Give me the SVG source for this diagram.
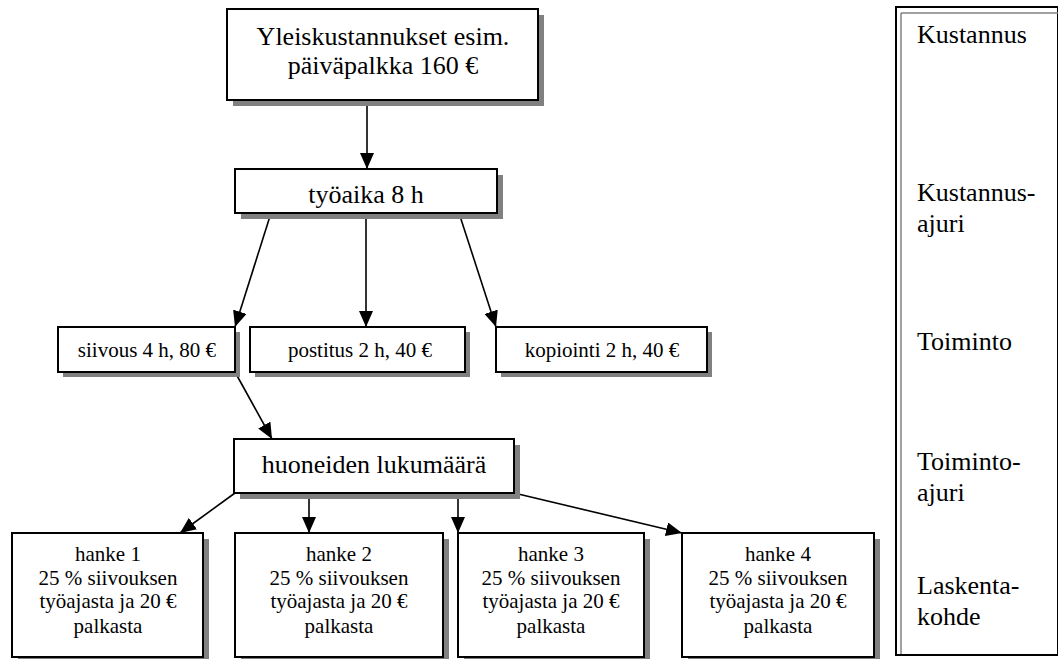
<svg xmlns="http://www.w3.org/2000/svg" width="1058" height="659" viewBox="0 0 1058 659">
<style>
.bg{fill:#ffffff}
.box{fill:#ffffff;stroke:#000000;stroke-width:2}
.sh{fill:#808080}
.t{font-family:"Liberation Serif","Times New Roman",serif;fill:#000000}
.big{font-size:26px}
.mid{font-size:21px}
.c{text-anchor:middle}
.con{stroke:#000000;stroke-width:1.6;fill:none;marker-end:url(#ah)}
</style>
<defs>
<marker id="ah" markerUnits="userSpaceOnUse" markerWidth="16" markerHeight="14" refX="16" refY="7" orient="auto">
<path d="M0,0 L16,7 L0,14 z" fill="#000000"/>
</marker>
</defs>
<rect class="bg" x="0" y="0" width="1058" height="659"/>
<g id="connectors">
<line class="con" x1="367" y1="100" x2="367" y2="169"/>
<line class="con" x1="271" y1="213" x2="235" y2="327"/>
<line class="con" x1="366" y1="213" x2="366" y2="327"/>
<line class="con" x1="459" y1="213" x2="496" y2="327"/>
<line class="con" x1="235" y1="372" x2="272" y2="439"/>
<line class="con" x1="235" y1="493" x2="180" y2="533"/>
<line class="con" x1="309" y1="493" x2="309" y2="533"/>
<line class="con" x1="458" y1="493" x2="458" y2="533"/>
<line class="con" x1="514" y1="493" x2="682" y2="533"/>
</g>
<g id="yleiskustannukset">
<rect class="sh" x="233" y="15" width="311" height="91"/>
<rect class="box" x="227" y="9" width="311" height="91"/>
<text class="t big c" x="383" y="45">Yleiskustannukset esim.</text>
<text class="t big c" x="383" y="74">päiväpalkka 160 €</text>
</g>
<g id="tyoaika">
<rect class="sh" x="241" y="175" width="262" height="44"/>
<rect class="box" x="235" y="169" width="262" height="44"/>
<text class="t big c" x="366" y="203">työaika 8 h</text>
</g>
<g id="siivous">
<rect class="sh" x="63" y="332" width="177" height="45"/>
<rect class="box" x="58" y="327" width="177" height="45"/>
<text class="t mid c" x="147" y="357">siivous 4 h, 80 €</text>
</g>
<g id="postitus">
<rect class="sh" x="255" y="332" width="215" height="45"/>
<rect class="box" x="250" y="327" width="215" height="45"/>
<text class="t mid c" x="360" y="357">postitus 2 h, 40 €</text>
</g>
<g id="kopiointi">
<rect class="sh" x="501" y="332" width="211" height="45"/>
<rect class="box" x="496" y="327" width="211" height="45"/>
<text class="t mid c" x="602" y="357">kopiointi 2 h, 40 €</text>
</g>
<g id="huoneiden">
<rect class="sh" x="240" y="445" width="280" height="54"/>
<rect class="box" x="234" y="439" width="280" height="54"/>
<text class="t big c" x="374" y="473">huoneiden lukumäärä</text>
</g>
<g id="hanke1">
<rect class="sh" x="18" y="539" width="191" height="124"/>
<rect class="box" x="12" y="533" width="191" height="124"/>
<text class="t mid c" x="108" y="561">hanke 1</text>
<text class="t mid c" x="108" y="585">25 % siivouksen</text>
<text class="t mid c" x="108" y="608">työajasta ja 20 €</text>
<text class="t mid c" x="108" y="633">palkasta</text>
</g>
<g id="hanke2">
<rect class="sh" x="241" y="539" width="208" height="124"/>
<rect class="box" x="235" y="533" width="208" height="124"/>
<text class="t mid c" x="339" y="561">hanke 2</text>
<text class="t mid c" x="339" y="585">25 % siivouksen</text>
<text class="t mid c" x="339" y="608">työajasta ja 20 €</text>
<text class="t mid c" x="339" y="633">palkasta</text>
</g>
<g id="hanke3">
<rect class="sh" x="464" y="539" width="186" height="124"/>
<rect class="box" x="458" y="533" width="186" height="124"/>
<text class="t mid c" x="551" y="561">hanke 3</text>
<text class="t mid c" x="551" y="585">25 % siivouksen</text>
<text class="t mid c" x="551" y="608">työajasta ja 20 €</text>
<text class="t mid c" x="551" y="633">palkasta</text>
</g>
<g id="hanke4">
<rect class="sh" x="688" y="539" width="192" height="124"/>
<rect class="box" x="682" y="533" width="192" height="124"/>
<text class="t mid c" x="778" y="561">hanke 4</text>
<text class="t mid c" x="778" y="585">25 % siivouksen</text>
<text class="t mid c" x="778" y="608">työajasta ja 20 €</text>
<text class="t mid c" x="778" y="633">palkasta</text>
</g>
<g id="legend">
<rect x="896" y="7" width="162" height="648" fill="#ffffff" stroke="#000000" stroke-width="2"/>
<line x1="901" y1="13" x2="901" y2="654" stroke="#808080" stroke-width="1.5"/>
<line x1="901" y1="13" x2="1058" y2="13" stroke="#808080" stroke-width="1.5"/>
<text class="t big" x="917" y="43">Kustannus</text>
<text class="t big" x="917" y="201">Kustannus-</text>
<text class="t big" x="917" y="232">ajuri</text>
<text class="t big" x="917" y="350">Toiminto</text>
<text class="t big" x="917" y="470">Toiminto-</text>
<text class="t big" x="917" y="501">ajuri</text>
<text class="t big" x="917" y="594">Laskenta-</text>
<text class="t big" x="917" y="625">kohde</text>
</g>
</svg>
